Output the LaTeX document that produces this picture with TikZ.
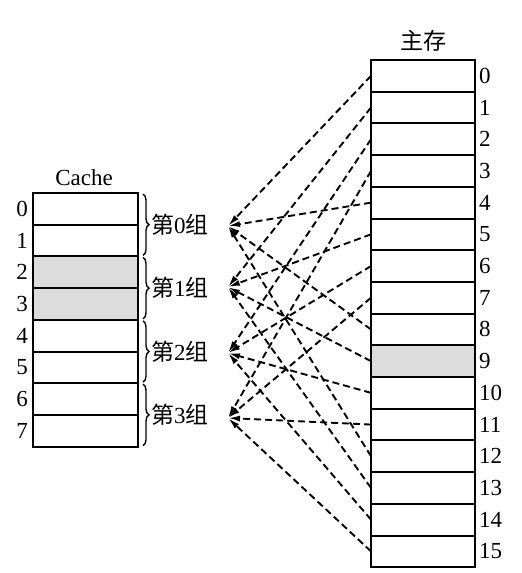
\documentclass[tikz,border=0pt]{standalone}
\usepackage{fontspec}
\setmainfont{Liberation Serif}
\newfontfamily\cjk{Noto Sans CJK SC}
\usetikzlibrary{arrows.meta,decorations.pathreplacing}
\definecolor{hl}{RGB}{220,220,220}
\begin{document}
\begin{tikzpicture}[x=1pt,y=-1pt,
  cell/.style={draw,line width=2pt,minimum width=105pt,minimum height=31.7pt,inner sep=0pt,outer sep=0pt},
  memcell/.style={cell,minimum width=104pt},
  lbl/.style={font=\fontsize{23}{26}\selectfont,inner sep=0pt},
  link/.style={dash pattern=on 7pt off 4pt,line width=1.9pt,-{Latex[length=12pt,width=6pt]}},
  grp/.style={decorate,decoration={brace,amplitude=6pt},line width=1.4pt}]
\useasboundingbox (0,0) rectangle (522,573);
% main memory
\foreach \i in {0,...,15}{
  \ifnum\i=9
    \node[memcell,fill=hl] (m\i) at (423,{60+31.7*(\i+0.5)}) {};
  \else
    \node[memcell] (m\i) at (423,{60+31.7*(\i+0.5)}) {};
  \fi
  \node[lbl,anchor=west] (ml\i) at ([xshift=4pt]m\i.east) {\i};
}
\node[lbl] (mt) at (423,41) {\cjk 主存};
% cache
\foreach \i in {0,...,7}{
  \ifnum\i=2
    \node[cell,fill=hl] (c\i) at (85.5,{193+31.7*(\i+0.5)}) {};
  \else\ifnum\i=3
    \node[cell,fill=hl] (c\i) at (85.5,{193+31.7*(\i+0.5)}) {};
  \else
    \node[cell] (c\i) at (85.5,{193+31.7*(\i+0.5)}) {};
  \fi\fi
  \node[lbl,anchor=east] (cl\i) at ([xshift=-5pt]c\i.west) {\i};
}
\node[lbl] (ct) at (84,178) {Cache};
% groups
\foreach \k/\gy in {0/226,1/287,2/353,3/418}{
  \draw[grp] (143,{193+63.4*\k+1}) -- (143,{193+63.4*(\k+1)-1});
  \node[lbl,anchor=west] (gl\k) at (151,{193+63.4*(\k+0.5)}) {\cjk 第\rmfamily\k\cjk 组};
  \coordinate (g\k) at (228,\gy);
}
% connectors
\foreach \i in {0,...,15}{
  \pgfmathtruncatemacro\k{mod(\i,4)}
  \draw[link] (m\i.west) -- (g\k);
}
\end{tikzpicture}
\end{document}
